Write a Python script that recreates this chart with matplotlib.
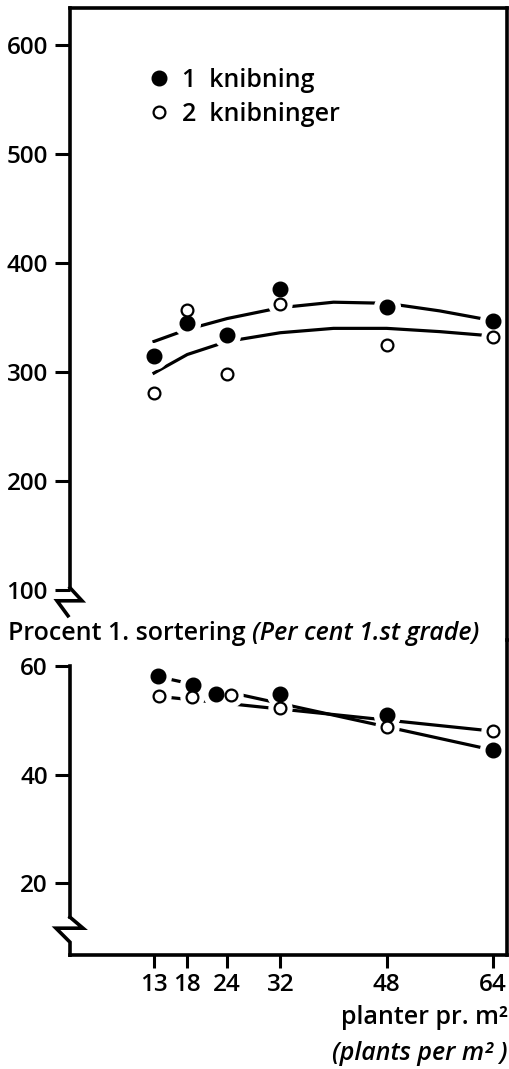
import matplotlib
matplotlib.use('Agg')
import matplotlib.pyplot as plt
import matplotlib.transforms as mtransforms
from matplotlib.lines import Line2D

plt.rcParams['font.family'] = ['Open Sans', 'DejaVu Sans']
plt.rcParams['font.weight'] = 'semibold'

# plants per m2
density = [13, 18, 24, 32, 48, 64]

# upper panel: yield, with the fitted curves
yield_1 = [315, 345, 334, 376, 360, 347]
yield_2 = [281, 357, 298, 362, 325, 332]
curve_x = [13, 18, 24, 32, 40, 48, 56, 64]
curve_1 = [328, 339, 349, 359, 364, 363, 356, 347]
curve_2 = [299, 316, 328, 336, 340, 340, 337, 333]

# lower panel: per cent 1st grade, with the trend lines
grade_1 = [58.2, 56.5, 54.8, 54.8, 51.0, 44.5]
grade_2 = [54.5, 54.3, 54.7, 52.3, 48.8, 48.0]
trend_x = [13, 64]
trend_1 = [58.2, 44.5]
trend_2 = [54.5, 48.0]

upper_ticks = [100, 200, 300, 400, 500, 600]
lower_ticks = [20, 40, 60]
labels = ['1  knibning', '2  knibninger']

W, H = 510, 1069
fig = plt.figure(figsize=(W / 100, H / 100), dpi=100)


def px_box(left, top, right, bottom):
    return [left / W, 1 - bottom / H, (right - left) / W, (bottom - top) / H]


ax1 = fig.add_axes(px_box(70, 8, 507, 640))
ax2 = fig.add_axes(px_box(70, 640, 507, 955))

LW = 2.6
TICK_FS = 17.5
FS = 18
for ax in (ax1, ax2):
    ax.set_xlim(0.36, 66.1)
    ax.patch.set_visible(False)
    for s in ax.spines.values():
        s.set_linewidth(LW)
        s.set_capstyle('projecting')
    ax.tick_params(axis='y', length=11, width=2.2, labelsize=TICK_FS, pad=5)

ax1.set_ylim(54.1, 633.9)
ax1.spines['bottom'].set_visible(False)
ax1.spines['left'].set_bounds(102, 633.9)
ax1.set_xticks([])
ax1.set_yticks(upper_ticks)

ax2.set_ylim(6.73, 64.8)
ax2.spines['top'].set_visible(False)
ax2.spines['left'].set_bounds(13.7, 60)
ax2.set_yticks(lower_ticks)
ax2.set_xticks(density)
ax2.tick_params(axis='x', length=9, width=2.2, labelsize=TICK_FS, pad=4)


def zigzag(ax, y, pts):
    # break symbol on the left axis, shape given in pixels below the anchor
    anchor = mtransforms.blended_transform_factory(ax.transAxes, ax.transData)
    tr = fig.dpi_scale_trans + mtransforms.ScaledTranslation(0, y, anchor)
    xs = [p[0] / 100 for p in pts]
    ys = [-p[1] / 100 for p in pts]
    ax.add_line(Line2D(xs, ys, transform=tr, color='black', lw=LW,
                       clip_on=False, solid_joinstyle='miter'))


zigzag(ax1, 102, [(0, 0), (12, 13), (-13, 13), (-2, 28)])
zigzag(ax2, 13.7, [(0, 0), (13, 11), (-14, 11), (0, 25), (0, 38)])

FILLED = dict(marker='o', ms=10.5, mfc='black', mec='black', mew=1)
OPEN = dict(marker='o', ms=8.5, mfc='white', mec='black', mew=1.6)


def points(ax, x, y, style, nudge=None):
    nudge = nudge or {}
    for xi, yi in zip(x, y):
        tr = ax.transData + mtransforms.ScaledTranslation(
            nudge.get(xi, 0) / 100, 0, fig.dpi_scale_trans)
        # white ring breaks the lines around each point
        ax.plot([xi], [yi], 'o', ms=style['ms'] + 8, color='white',
                transform=tr, zorder=2.2, clip_on=False)
        ax.plot([xi], [yi], ls='none', transform=tr, zorder=4,
                clip_on=False, **style)


# upper panel
ax1.plot(curve_x, curve_1, color='black', lw=2.3, zorder=2)
ax1.plot(curve_x, curve_2, color='black', lw=2.3, zorder=2)
points(ax1, density, yield_1, FILLED)
points(ax1, density, yield_2, OPEN)

h1 = Line2D([], [], ls='none', **FILLED)
h2 = Line2D([], [], ls='none', **OPEN)
ax1.legend([h1, h2], labels, loc='upper left', bbox_to_anchor=(0.183, 0.905),
           frameon=False, fontsize=FS, handlelength=0.7, handletextpad=0.6,
           labelspacing=0.36, borderpad=0, borderaxespad=0, numpoints=1)

# lower panel
ax2.plot(trend_x, trend_1, color='black', lw=2.3, zorder=2)
ax2.plot(trend_x, trend_2, color='black', lw=2.3, zorder=2)
points(ax2, density, grade_1, FILLED, nudge={13: 4, 18: 6, 24: -11})
points(ax2, density, grade_2, OPEN, nudge={13: 5, 18: 5, 24: 4})

# panel titles and axis label
t1 = fig.text(8 / W, 1 - 640 / H, 'Procent 1. sortering ', fontsize=FS,
              va='baseline', ha='left')
ax1.annotate('(Per cent 1.st grade)', xy=(1, 0), xycoords=t1, fontsize=FS,
             style='italic', va='bottom', ha='left', annotation_clip=False)
fig.text(508 / W, 1 - 1018 / H, 'planter pr. m²', fontsize=FS,
         ha='right', va='center')
fig.text(508 / W, 1 - 1053 / H, '(plants per m² )', fontsize=FS,
         style='italic', ha='right', va='center')

fig.savefig('out.png', dpi=100, facecolor='white')
